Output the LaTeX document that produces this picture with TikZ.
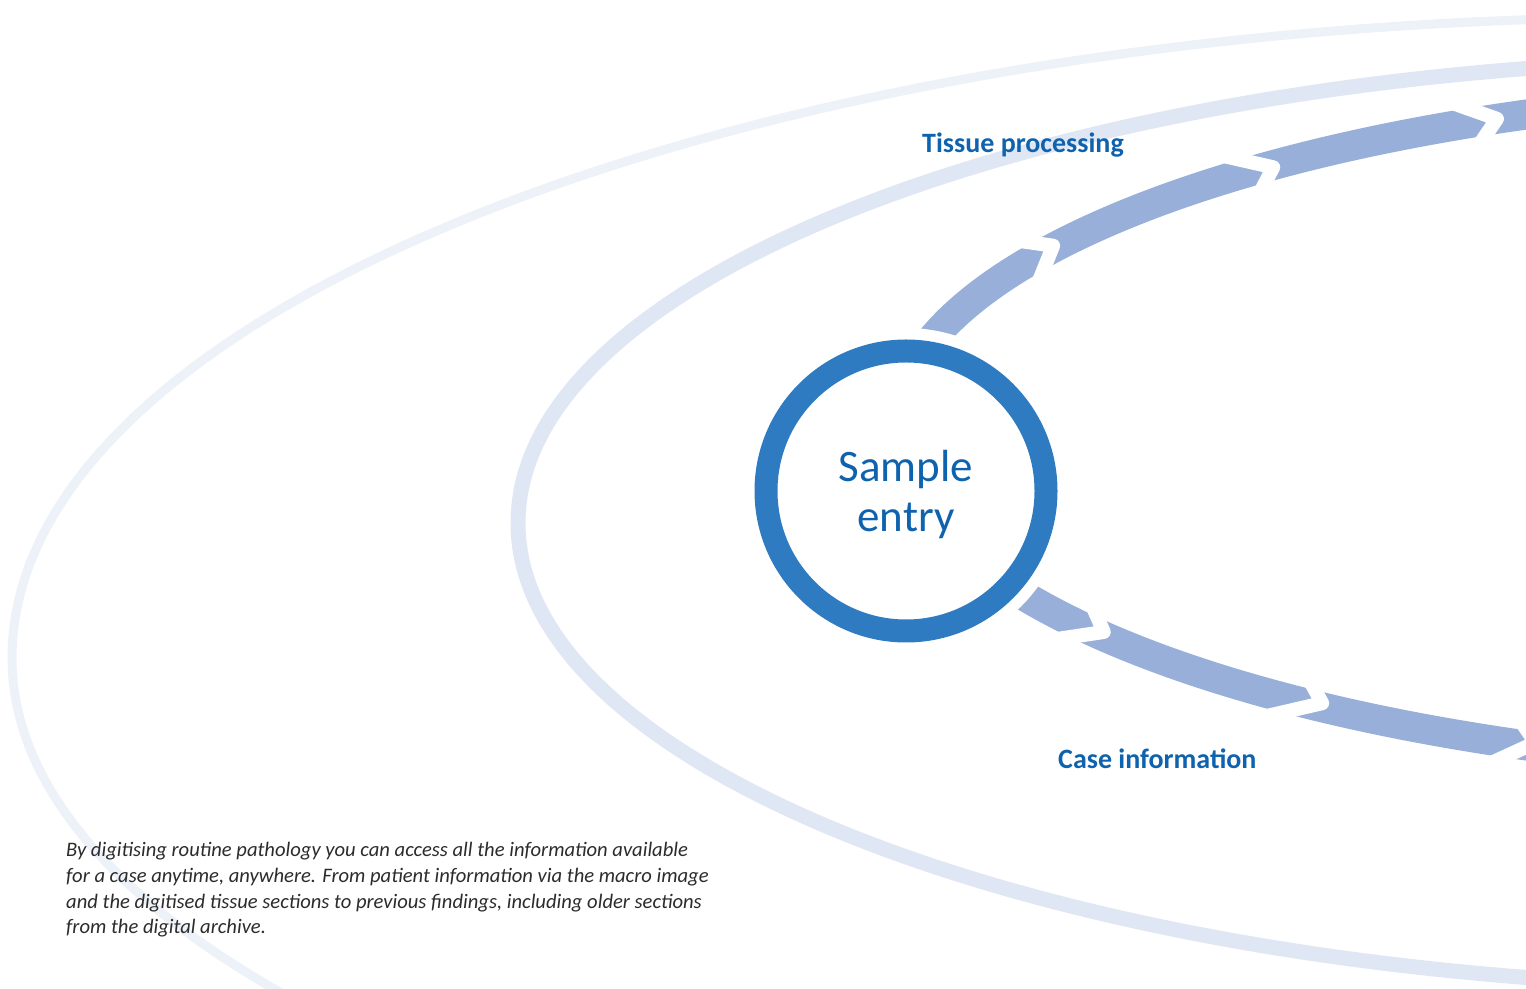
\documentclass[tikz,border=0pt]{standalone}
\usepackage{fontspec}
\setmainfont{Carlito}
\definecolor{faintring}{HTML}{EDF1F8}
\definecolor{midring}{HTML}{E0E7F4}
\definecolor{bandblue}{HTML}{97AFD9}
\definecolor{ringblue}{HTML}{2E7BC1}
\definecolor{labelblue}{HTML}{0F63AE}
\definecolor{bodygray}{HTML}{2C2C2C}
% white chevron gap across the arrow band
% #1 ellipse angle, #2 0/180 (flow direction), #3 side sign, #4 inner back, #5 outer back, #6 vertex offset
\newcommand{\gapchev}[6]{%
  \pgfmathsetmacro{\chevrot}{atan2(342.5*cos(#1),-1034*sin(#1))+#2}%
  \begin{scope}[shift={(1929,558)},shift={(#1:1034 and 342.5)},rotate=\chevrot]
    \draw[gapline] ({-1.6*(#4)},{(#6)*(#3)+1.6*(-15-(#6))*(#3)}) -- (0,{(#6)*(#3)}) -- ({-1.5*(#5)},{(#6)*(#3)+1.5*(15-(#6))*(#3)});
  \end{scope}}
\begin{document}
\begin{tikzpicture}[x=1pt,y=1pt,
  bandline/.style={draw=bandblue, line width=30pt},
  gapline/.style={draw=white, line width=14pt, line join=round},
  bigtxt/.style={inner sep=0pt, text=labelblue, font=\fontsize{45}{50}\selectfont},
  steptxt/.style={inner sep=0pt, text=labelblue, font=\fontsize{28}{32}\selectfont\bfseries},
  bodytxt/.style={inner sep=0pt, anchor=base west, text=bodygray, font=\fontsize{20.6}{26}\selectfont\itshape}]
\useasboundingbox (0,0) rectangle (1526,988);
\fill[white] (0,0) rectangle (1526,988);
\begin{scope}
  \clip (0,0) rectangle (1526,988);
  % background ellipses
  \draw[faintring, line width=9pt] (1682,971) arc[start angle=90, end angle=180, x radius=1670, y radius=641]
        arc[start angle=180, end angle=270, x radius=1670, y radius=615];
  \draw[midring, line width=15pt] (1792,465) ellipse [x radius=1274, y radius=464.6];
  % arrow band
  \draw[bandline] (1929,558) ++(108:1034 and 342.5) arc[start angle=108, end angle=252, x radius=1034, y radius=342.5];
  % top joints (flow to the right, decreasing angle)
  \gapchev{147.8}{180}{1}{20}{18}{2}
  \gapchev{129.4}{180}{1}{12}{32}{-2}
  \gapchev{114.7}{180}{1}{14}{28}{0}
  % bottom joints (flow to the right, increasing angle)
  \gapchev{216.9}{0}{-1}{12}{30}{-4}
  \gapchev{234.0}{0}{-1}{10}{38}{-4}
  \gapchev{247.6}{0}{-1}{10}{30}{-4}
\end{scope}
% central node
\coordinate (ctr) at (906,497);
\fill[white] (ctr) circle (163);
\node[circle, draw=ringblue, line width=23pt, minimum size=280pt, inner sep=0pt] (entry) at (ctr) {};
\node[bigtxt, anchor=base] (entry1) at (906,506) {Sample};
\node[bigtxt, anchor=base] (entry2) at (906,456) {entry};
% step labels
\node[steptxt, anchor=base west] (tissue) at (922,835) {Tissue processing};
\node[steptxt, anchor=base west] (caseinfo) at (1058,219) {Case information};
% body text
\node[bodytxt] (body1) at (66,131.3) {By digitising routine pathology you can access all the information available};
\node[bodytxt] (body2) at (66,105.5) {for a case anytime, anywhere. From patient information via the macro image};
\node[bodytxt] (body3) at (66,79.7) {and the digitised tissue sections to previous findings, including older sections};
\node[bodytxt] (body4) at (66,54) {from the digital archive.};
\end{tikzpicture}
\end{document}
